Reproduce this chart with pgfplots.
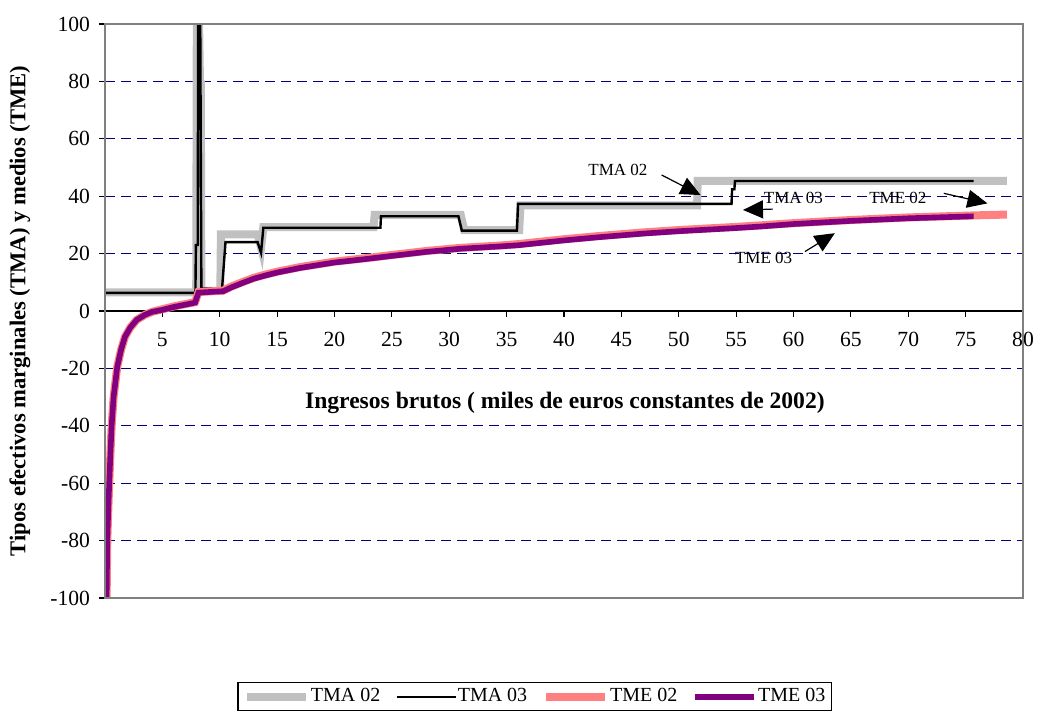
\documentclass[border=0pt]{standalone}
\usepackage{fontspec}
\setmainfont{Liberation Serif}
\usepackage{pgfplots}
\pgfplotsset{compat=1.18}
\usetikzlibrary{arrows.meta}
\definecolor{tmagray}{HTML}{C0C0C0}
\definecolor{tmesalmon}{HTML}{FF8080}
\definecolor{tmepurple}{HTML}{800080}
\definecolor{gridnavy}{HTML}{000080}
\begin{document}
\begin{tikzpicture}
\path[use as bounding box] (-52.5pt,-58.5pt) rectangle (469.5pt,299pt);
\begin{axis}[
  at={(0pt,0pt)}, anchor=south west,
  scale only axis, width=459pt, height=287pt,
  xmin=0, xmax=80, ymin=-100, ymax=100,
  axis x line*=middle, axis y line*=left,
  hide obscured x ticks=false, hide obscured y ticks=false,
  xtick={5,10,...,80}, ytick={-100,-80,...,100},
  tick align=outside, major tick length=3pt,
  tick style={black, line width=0.6pt},
  x axis line style={black, line width=0.7pt},
  y axis line style={black!80, line width=0.9pt},
  ymajorgrids, grid style={gridnavy, line width=0.5pt, dash pattern=on 5pt off 3pt},
  /pgf/number format/assume math mode=true,
  ticklabel style={font=\fontsize{10.8}{12}\selectfont},
  xticklabel style={yshift=-4pt},
  yticklabel style={xshift=-1pt},
  xlabel={\textbf{Ingresos brutos ( miles de euros constantes de 2002)}},
  xlabel style={at={(axis description cs:0.501,0.340)}, anchor=center, font=\fontsize{11.8}{12}\selectfont},
  ylabel={\textbf{Tipos efectivos marginales (TMA) y medios (TME)}},
  ylabel style={at={(axis description cs:-0.0926,0.5)}, anchor=center, rotate=0, font=\fontsize{11.3}{12}\selectfont},
  legend columns=4,
  legend style={at={(axis description cs:0.468,-0.1463)}, anchor=north, draw=black, line width=0.6pt,
    font=\fontsize{10}{12}\selectfont, inner sep=2.5pt, nodes={inner sep=0.5pt},
    /tikz/every odd column/.append style={column sep=0pt},
    /tikz/every even column/.append style={column sep=7pt}},
  legend image code/.code={\draw[#1] (0pt,0pt) -- (29.5pt,0pt);},
  after end axis/.code={\draw[gray, line width=0.6pt] (rel axis cs:0,0) rectangle (rel axis cs:1,1);},
]
\addplot[tmagray, line width=4pt, line join=miter] coordinates {
(0,6.5) (7.95,6.5) (8.0,100) (8.2,100) (8.28,79) (8.35,79) (8.4,7) (10.05,7) (10.1,26.7) (13.3,26.7) (13.6,22) (13.8,29.2) (23.4,29.2) (23.5,33.5) (31.0,33.5) (31.3,28.2) (36.1,28.2) (36.2,36.8) (51.6,36.8) (51.65,45.3) (78.6,45.3)};
\addlegendentry{TMA 02}
\addplot[black, line width=1.2pt] coordinates {
(0,6.3) (7.88,6.3) (7.92,23) (8.08,23) (8.12,100) (8.3,100) (8.4,7.8) (10.2,7.8) (10.5,24) (13.3,24) (13.6,20.3) (13.8,29) (24.0,29) (24.05,33) (30.8,33) (31.1,28) (35.9,28) (36.0,37.3) (54.6,37.3) (54.65,42.4) (54.85,42.4) (54.9,45.3) (75.7,45.3)};
\addlegendentry{TMA 03}
\addplot[tmesalmon, line width=4pt] coordinates {
(0.14,-100) (0.2,-80) (0.28,-70) (0.37,-60) (0.47,-50) (0.58,-40) (0.75,-30) (1.07,-19.4) (1.4,-13.5) (1.74,-9) (2.2,-5.8) (2.76,-3.1) (3.5,-1.3) (4.1,-0.3) (5,0.6) (6,1.6) (7,2.4) (7.85,3.1) (8.15,6.6) (9,6.8) (10.3,7.1) (11,8.5) (12,10.1) (13,11.6) (14,12.7) (15,13.7) (17,15.3) (20,17.2) (22.5,18.3) (25,19.5) (28,20.9) (31,22.0) (34.4,22.8) (36,23.3) (40,25.0) (43,26.1) (47,27.4) (50,28.2) (55,29.3) (57,29.8) (60,30.6) (65,31.7) (70,32.6) (75.7,33.3) (78.6,33.6)};
\addlegendentry{TME 02}
\addplot[tmepurple, line width=2.8pt] coordinates {
(0.14,-100) (0.2,-80) (0.28,-70) (0.37,-60) (0.47,-50) (0.58,-40) (0.75,-30) (1.07,-19.4) (1.4,-13.5) (1.74,-9) (2.2,-5.8) (2.76,-3.1) (3.5,-1.3) (4.1,-0.3) (5,0.4) (6,1.4) (7,2.2) (7.85,2.9) (8.15,6.4) (9,6.6) (10.3,6.9) (11,8.2) (12,9.8) (13,11.3) (14,12.4) (15,13.4) (17,15.0) (20,16.9) (22.5,18.0) (25,19.2) (28,20.6) (31,21.7) (34.4,22.5) (36,22.9) (40,24.6) (43,25.7) (47,27.0) (50,27.8) (55,28.9) (57,29.4) (60,30.3) (65,31.4) (70,32.3) (75.7,33.0)};
\addlegendentry{TME 03}
\begin{scope}[font=\fontsize{8.5}{10}\selectfont]
\node at (axis cs:44.7,49.1) {TMA 02};
\node at (axis cs:60.0,39.4) {TMA 03};
\node at (axis cs:69.1,39.4) {TME 02};
\node at (axis cs:57.4,18.5) {TME 03};
\end{scope}
\begin{scope}[line width=0.6pt, -{Triangle[length=10pt,width=9pt]}]
\draw (axis cs:48.5,47.4) -- (axis cs:51.9,40.4);
\draw (axis cs:58.2,35.5) -- (axis cs:55.6,35.2);
\draw (axis cs:73.1,41.0) -- (axis cs:76.9,37.5);
\draw (axis cs:61.0,20.7) -- (axis cs:63.6,27.1);
\end{scope}
\end{axis}
\end{tikzpicture}
\end{document}
